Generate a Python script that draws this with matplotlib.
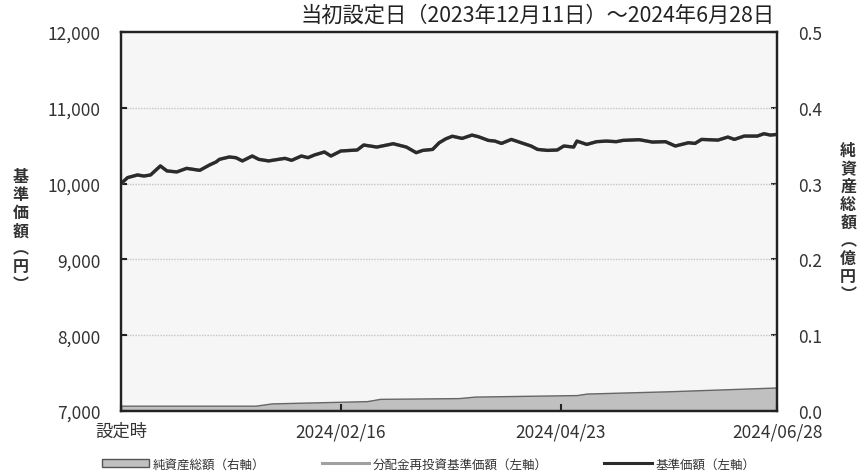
import numpy as np
import pandas as pd
import matplotlib
matplotlib.use("Agg")
import matplotlib.pyplot as plt
from matplotlib.patches import Patch
from matplotlib.lines import Line2D

plt.rcParams['font.family'] = ['Noto Sans CJK JP', 'DejaVu Sans']

# 基準価額（円）
nav_dates = [
    "2023-12-11", "2023-12-13", "2023-12-16", "2023-12-18", "2023-12-20", "2023-12-23",
    "2023-12-25", "2023-12-28", "2023-12-31", "2024-01-02", "2024-01-04", "2024-01-07",
    "2024-01-09", "2024-01-10", "2024-01-13", "2024-01-15", "2024-01-17", "2024-01-20",
    "2024-01-22", "2024-01-25", "2024-01-28", "2024-01-30",
    "2024-02-01", "2024-02-04", "2024-02-06", "2024-02-08", "2024-02-11", "2024-02-13",
    "2024-02-16", "2024-02-19", "2024-02-21", "2024-02-23", "2024-02-27", "2024-03-03",
    "2024-03-07", "2024-03-10", "2024-03-12", "2024-03-15", "2024-03-17",
    "2024-03-19", "2024-03-21", "2024-03-24", "2024-03-27", "2024-03-29", "2024-04-01",
    "2024-04-03", "2024-04-05", "2024-04-08", "2024-04-11", "2024-04-14", "2024-04-16",
    "2024-04-19", "2024-04-22", "2024-04-24", "2024-04-27", "2024-04-28", "2024-05-01",
    "2024-05-04", "2024-05-07", "2024-05-10",
    "2024-05-12", "2024-05-17", "2024-05-21", "2024-05-25", "2024-05-28", "2024-06-01",
    "2024-06-03", "2024-06-05", "2024-06-10", "2024-06-13", "2024-06-15", "2024-06-18",
    "2024-06-22", "2024-06-24", "2024-06-26", "2024-06-28",
]
nav = [
    10000, 10079, 10114, 10100, 10114, 10233, 10167, 10154, 10201, 10188, 10175, 10246,
    10286, 10320, 10351, 10342, 10299, 10364, 10320, 10299, 10320, 10333,
    10307, 10364, 10342, 10378, 10417, 10364, 10430, 10438, 10443, 10509, 10482, 10526,
    10482, 10408, 10438, 10451, 10539,
    10590, 10625, 10596, 10640, 10618, 10570, 10561, 10530, 10583, 10539, 10496, 10451,
    10438, 10443, 10496, 10482, 10561, 10517, 10553, 10561, 10553,
    10570, 10579, 10548, 10553, 10496, 10539, 10530, 10583, 10574, 10614, 10583, 10627,
    10627, 10658, 10640, 10649,
]
# 分配金再投資基準価額（分配実績なしのため基準価額と同じ）
nav_reinvested = list(nav)

# 純資産総額（億円）
assets_dates = ["2023-12-11", "2024-01-21", "2024-01-26", "2024-02-24", "2024-02-28",
                "2024-03-23", "2024-03-28", "2024-04-28", "2024-05-01", "2024-05-26",
                "2024-06-28"]
assets = [0.007, 0.007, 0.010, 0.013, 0.016, 0.017, 0.019, 0.021, 0.023, 0.026, 0.031]

tick_dates = ["2023-12-11", "2024-02-16", "2024-04-23", "2024-06-28"]
tick_labels = ["設定時", "2024/02/16", "2024/04/23", "2024/06/28"]

nd = pd.to_datetime(nav_dates)
ad = pd.to_datetime(assets_dates)
td = pd.to_datetime(tick_dates)

fig = plt.figure(figsize=(8.62, 4.77), dpi=100)
ax2 = fig.add_axes([0.1404, 0.1363, 0.7610, 0.7945])
ax = ax2.twinx()
ax.yaxis.tick_left()
ax2.yaxis.tick_right()

ax2.set_facecolor("#f6f6f6")
ax.patch.set_visible(False)

txt = "#333333"

# 純資産総額（右軸）
ax2.fill_between(ad, assets, 0, color="#c0c0c0", edgecolor="#666666", linewidth=1.0)
ax2.set_ylim(0, 0.5)
ax2.set_yticks(np.arange(0, 0.51, 0.1))
ax2.set_yticklabels([f"{v:.1f}" for v in np.arange(0, 0.51, 0.1)])

# 基準価額（左軸）
ax.plot(nd, nav_reinvested, color="#a0a0a0", linewidth=2.4)
ax.plot(nd, nav, color="#2b2b2b", linewidth=2.4, solid_joinstyle="round")
ax.set_ylim(7000, 12000)
ax.set_yticks(range(7000, 12001, 1000))
ax.set_yticklabels([f"{v:,}" for v in range(7000, 12001, 1000)])
for v in range(8000, 12000, 1000):
    ax.axhline(v, color="#c4c4c4", linewidth=1.0, linestyle=(0, (1, 1)), zorder=0)

ax2.set_xlim(td[0], td[-1])
ax2.set_xticks(td)
ax2.set_xticklabels(tick_labels)

for a in (ax, ax2):
    for s in a.spines.values():
        s.set_color("#222222")
        s.set_linewidth(1.6)
ax.tick_params(axis="y", direction="in", length=4, width=1.5, color="#222222",
               labelsize=12.5, labelcolor=txt, pad=15)
ax2.tick_params(axis="y", direction="in", length=4, width=1.5, color="#222222",
                labelsize=12.5, labelcolor=txt, pad=15)
ax2.tick_params(axis="x", direction="in", length=5, width=1.5, color="#222222",
                labelsize=12.5, labelcolor=txt, pad=8)

fig.text(0.8985, 0.968, "当初設定日（2023年12月11日）～2024年6月28日", ha="right", va="center",
         fontsize=15.3, color="#222222")

fig.text(0.024, 0.515, "\n".join(["基", "準", "価", "額", "︵", "円", "︶"]), ha="center",
         va="center", fontsize=11.5, fontweight="bold", color=txt, linespacing=1.15)
fig.text(0.984, 0.533, "\n".join(["純", "資", "産", "総", "額", "︵", "億", "円", "︶"]),
         ha="center", va="center", fontsize=11.5, fontweight="bold", color=txt,
         linespacing=1.15)

handles = [
    Patch(facecolor="#c0c0c0", edgecolor="#555555", linewidth=1.0),
    Line2D([], [], color="#a0a0a0", linewidth=2.2),
    Line2D([], [], color="#2b2b2b", linewidth=2.2),
]
labels = ["純資産総額（右軸）", "分配金再投資基準価額（左軸）", "基準価額（左軸）"]
fig.legend(handles, labels, loc="center", bbox_to_anchor=(0.497, 0.025), ncol=3,
           frameon=False, fontsize=9, handlelength=3.8, handleheight=0.6,
           columnspacing=4.5, handletextpad=0.3, labelcolor=txt)

fig.savefig("out.png", dpi=100)
